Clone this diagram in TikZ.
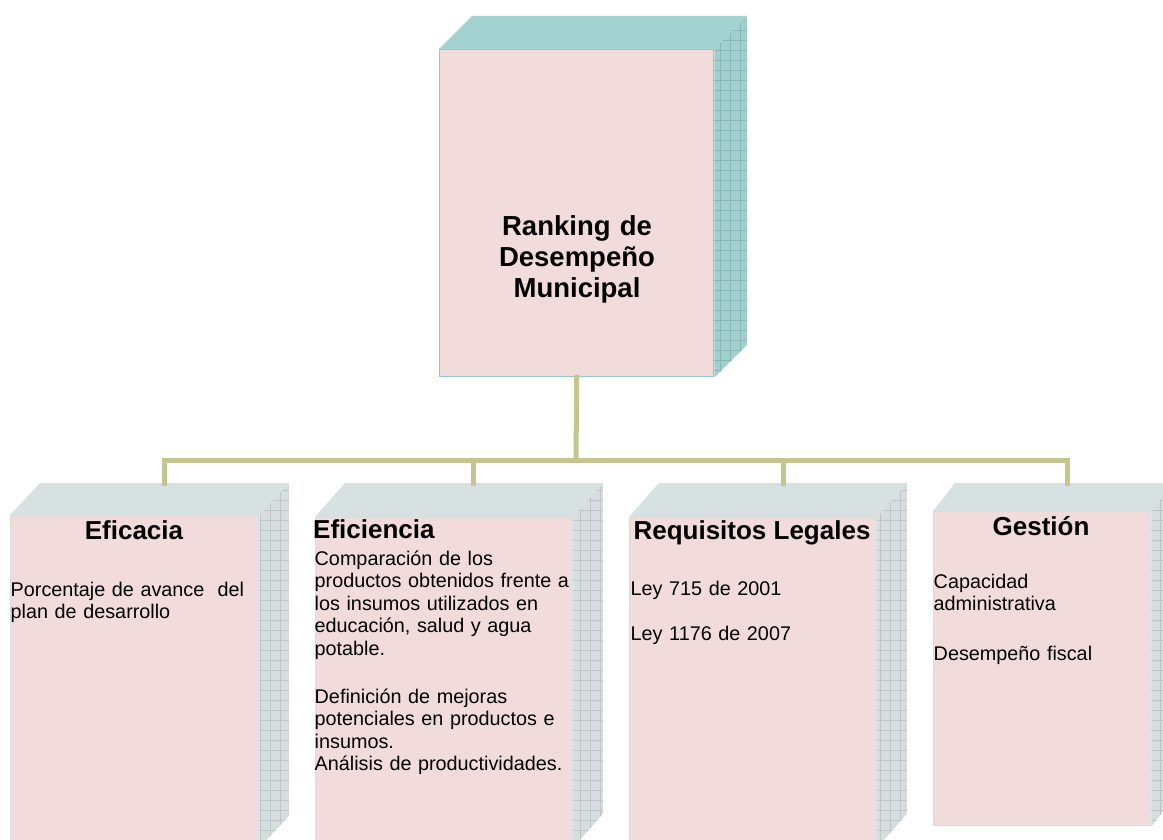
\documentclass[tikz,border=0pt]{standalone}
\usepackage{fontspec}
\setmainfont{Liberation Sans}
\definecolor{frontpink}{HTML}{F2DCDB}
\definecolor{tealtop}{HTML}{A3D3D1}
\definecolor{tealside}{HTML}{A2CFCD}
\definecolor{tealgrid}{HTML}{86B7B5}
\definecolor{tealedge}{HTML}{8FCBCB}
\definecolor{graytop}{HTML}{D8E1E2}
\definecolor{grayside}{HTML}{D7DDDE}
\definecolor{graygrid}{HTML}{BCC5C6}
\definecolor{grayedge}{HTML}{D3E0E0}
\definecolor{connol}{HTML}{C6C590}
\newcommand\titlefnt{\fontsize{27.5}{31}\selectfont\bfseries}
\newcommand\headfnt{\fontsize{26}{30}\selectfont\bfseries}
\newcommand\bodyfnt{\fontsize{19.8}{22.5}\selectfont}
% #1 node, #2 dx, #3 dy, #4 top colour, #5 side colour, #6 grid colour
\newcommand\boxfaces[6]{%
  \fill[#4] (#1.north west) -- ++(#2,-#3) -- ([shift={(#2,-#3)}]#1.north east) -- (#1.north east) -- cycle;
  \begin{scope}
    \clip (#1.north east) -- ++(#2,-#3) -- ([shift={(#2,-#3)}]#1.south east) -- (#1.south east) -- cycle;
    \fill[#5] ([shift={(0,-#3)}]#1.north east) rectangle ([shift={(#2,0)}]#1.south east);
    \draw[#6, line width=0.6pt, step=10pt] ([shift={(0,-#3)}]#1.north east) grid ([shift={(#2,0)}]#1.south east);
  \end{scope}}
\begin{document}
\begin{tikzpicture}[x=1pt,y=-1pt,
  frontA/.style={draw=tealedge, line width=1.4pt, fill=frontpink, anchor=north west, inner sep=0pt},
  frontB/.style={draw=grayedge, line width=1.4pt, fill=frontpink, anchor=north west, inner sep=0pt},
  conn/.style={draw=connol, line width=5pt, line cap=rect},
  bodytext/.style={anchor=base west, inner sep=0pt, text width=300pt, align=left, font=\bodyfnt},
  headtext/.style={inner sep=0pt, font=\headfnt}]
\clip (0,0) rectangle (1163,840);
\fill[white] (0,0) rectangle (1163,840);

% boxes
\node[frontA, minimum width=274pt, minimum height=327pt] (top) at (439,49) {};
\boxfaces{top}{33}{33}{tealtop}{tealside}{tealgrid}
\node[frontB, minimum width=248pt, minimum height=331pt] (eficacia) at (10,515) {};
\boxfaces{eficacia}{30}{32}{graytop}{grayside}{graygrid}
\node[frontB, minimum width=257pt, minimum height=329pt] (eficiencia) at (315,517) {};
\boxfaces{eficiencia}{30}{34}{graytop}{grayside}{graygrid}
\node[frontB, minimum width=247pt, minimum height=329pt] (requisitos) at (629,517) {};
\boxfaces{requisitos}{30}{34}{graytop}{grayside}{graygrid}
\node[frontB, minimum width=217pt, minimum height=314pt] (gestion) at (933,511) {};
\boxfaces{gestion}{22}{28}{graytop}{grayside}{graygrid}

% connectors
\coordinate (bus) at (576,460);
\coordinate (b1) at (164,460);
\coordinate (b2) at (473,460);
\coordinate (b3) at (783,460);
\coordinate (b4) at (1067,460);
\coordinate (t1) at (164,483);
\coordinate (t2) at (473,483);
\coordinate (t3) at (783,483);
\coordinate (t4) at (1067,483);
\draw[conn] (top.south) -- (bus);
\draw[conn] (t1) -- (b1) -- (b4) -- (t4);
\draw[conn] (b2) -- (t2);
\draw[conn] (b3) -- (t3);

% texts
\node[anchor=base, inner sep=0pt, text width=300pt, align=center, font=\titlefnt] (title) at (577,236) {Ranking de\\Desempeño\\Municipal};

\node[headtext, anchor=base] (h1) at (134,539) {Eficacia};
\node[headtext, anchor=base west] (h2) at (313,538) {Eficiencia};
\node[headtext, anchor=base] (h3) at (752,539) {Requisitos Legales};
\node[headtext, anchor=base] (h4) at (1041,535) {Gestión};

\node[bodytext] (e1) at (10.5,596) {Porcentaje de avance\ \ del\\plan de desarrollo};
\node[bodytext] (f1) at (314.5,565) {Comparación de los\\productos obtenidos frente a\\los insumos utilizados en\\educación, salud y agua\\potable.};
\node[bodytext] (f2) at (314.5,703) {Definición de mejoras\\potenciales en productos e\\insumos.\\Análisis de productividades.};
\node[bodytext] (r1) at (630.5,595) {Ley 715 de 2001};
\node[bodytext] (r2) at (630.5,640) {Ley 1176 de 2007};
\node[bodytext] (g1) at (933.5,588) {Capacidad\\administrativa};
\node[bodytext] (g2) at (933.5,660) {Desempeño fiscal};
\end{tikzpicture}
\end{document}
